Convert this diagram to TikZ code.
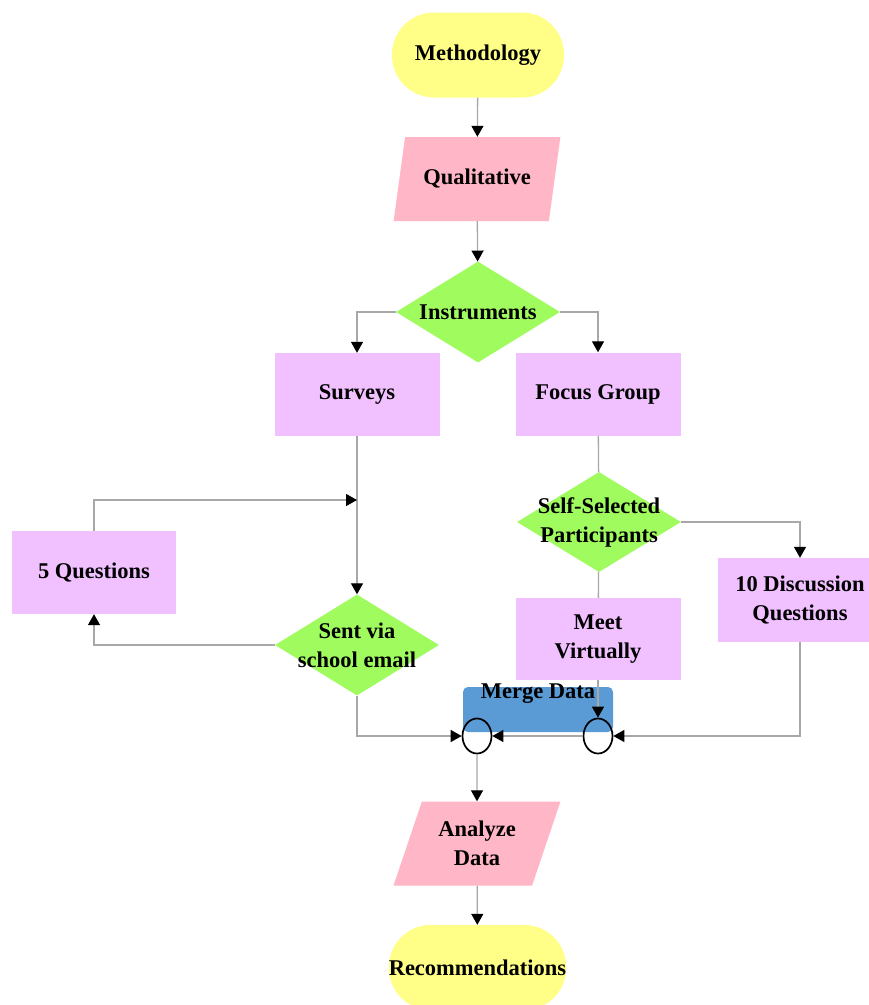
\documentclass[tikz,border=0pt]{standalone}
\usepackage{fontspec}
\setmainfont{Liberation Serif}
\usetikzlibrary{arrows.meta,shapes.geometric}
\definecolor{sun}{HTML}{FFFF88}
\definecolor{rose}{HTML}{FFB6C6}
\definecolor{lime}{HTML}{A0FC5E}
\definecolor{lilac}{HTML}{F0C0FF}
\definecolor{sky}{HTML}{5B9BD5}
\definecolor{wirec}{HTML}{A8A8A8}

\begin{document}
\begin{tikzpicture}[x=1pt,y=-1pt,
    base/.style={font=\fontsize{22.5}{29}\selectfont\bfseries,align=center,inner sep=0pt},
    term/.style={base,fill=sun,rounded corners=42pt,minimum width=172pt,minimum height=85pt},
    io/.style={base,trapezium,trapezium left angle=66,trapezium right angle=114,trapezium stretches=true,fill=rose,minimum width=167pt,minimum height=84pt},
    cond/.style={base,diamond,fill=lime,inner xsep=-45pt,minimum width=164pt,minimum height=101pt},
    proc/.style={base,fill=lilac,minimum width=165pt,minimum height=83pt},
    junc/.style={ellipse,draw=black,line width=1.7pt,minimum width=29pt,minimum height=35pt,inner sep=0pt},
    link/.style={draw=wirec,line width=1.3pt},
    >={Triangle[length=11pt,width=12pt,color=black]}]
    \useasboundingbox (0,0) rectangle (869,1005);
    \fill[white] (0,0) rectangle (869,1005);
    % main column
    \node[term] (meth) at (478,55) {Methodology};
    \node[io] (qual) at (477,179) {Qualitative};
    \node[cond] (instr) at (478,312) {Instruments};
    \node[proc] (surv) at (357,394.5) {Surveys};
    \node[proc] (focus) at (598,394) {Focus Group};
    % survey branch
    \node[proc,minimum width=164pt] (fiveq) at (94,572.5) {5 Questions};
    \node[cond] (sent) at (357,645) {Sent via\\school email};
    \coordinate (back) at (357,500);
    % focus group branch
    \node[cond,minimum height=100pt] (self) at (599,522) {Self-Selected\\Participants};
    \node[proc,minimum height=82pt] (meet) at (598,639) {Meet\\Virtually};
    \node[proc,minimum height=84pt] (disc) at (800,600) {10 Discussion\\Questions};
    % merge
    \node[base,fill=sky,rounded corners=5pt,minimum width=150pt,minimum height=45pt,
      label={[base,anchor=center,yshift=-7pt]north:Merge Data}] (merge) at (538,709.5) {};
    \node[junc] (jl) at (477,736) {};
    \node[junc] (jr) at (598,736) {};
    \node[io] (anal) at (477,843.5) {Analyze\\Data};
    \node[term,minimum width=175pt] (rec) at (477.5,967.5) {Recommendations};
    % connectors
    \draw[link,->] (meth) -- (qual);
    \draw[link,->] (qual) -- (instr);
    \draw[link,->] (instr.west) -| (surv.north);
    \draw[link,->] (instr.east) -| (focus.north);
    \draw[link,->] (surv) -- (sent);
    \draw[link,->] (fiveq.north) |- (back);
    \draw[link,->] (sent.west) -| (fiveq.south);
    \draw[link,->] (sent.south) |- (jl.west);
    \draw[link] (focus) -- (self);
    \draw[link] (self) -- (meet);
    \draw[link,->] (self.east) -| (disc.north);
    \draw[link,->] (meet.south) -- (jr.north);
    \draw[link,->] (disc.south) |- (jr.east);
    \draw[link,->] (jr.west) -- (jl.east);
    \draw[link,->] (jl.south) -- (anal.north);
    \draw[link,->] (anal) -- (rec);
\end{tikzpicture}
\end{document}
